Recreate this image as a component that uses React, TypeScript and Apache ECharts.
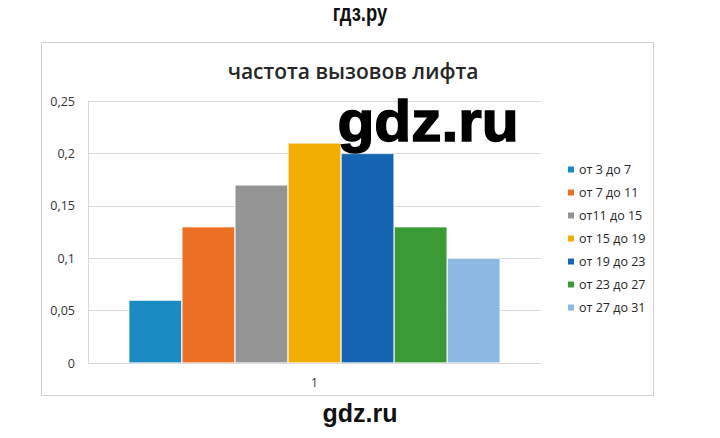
import { useEffect, useRef } from 'react';
import * as echarts from 'echarts';

const categories = ['1'];
const intervals = [
  'от 3 до 7',
  'от 7 до 11',
  'от11 до 15',
  'от 15 до 19',
  'от 19 до 23',
  'от 23 до 27',
  'от 27 до 31',
];
const frequencies = [0.06, 0.13, 0.17, 0.21, 0.2, 0.13, 0.1];
const colors = ['#1a8ac2', '#ec6f23', '#949494', '#f2ad02', '#1565b3', '#3a9a35', '#8cb9e2'];

const labelFont = '"Open Sans", "Liberation Sans", sans-serif';

export default function App() {
  const chartRef = useRef<HTMLDivElement>(null);

  useEffect(() => {
    document.body.style.margin = '0';
    if (!chartRef.current) return;
    const chart = echarts.init(chartRef.current, undefined, { renderer: 'svg' });

    const option: echarts.EChartsOption = {
      animation: false,
      backgroundColor: '#ffffff',
      textStyle: { fontFamily: labelFont },
      title: {
        text: 'частота вызовов лифта',
        left: 348,
        textAlign: 'center',
        top: 55,
        textStyle: {
          fontFamily: labelFont,
          fontSize: 21,
          fontWeight: 600,
          color: '#262626',
        },
      },
      grid: { left: 88, right: 179, top: 101, bottom: 75 },
      legend: {
        orient: 'vertical',
        left: 561,
        top: 158,
        itemWidth: 8,
        itemHeight: 8,
        itemGap: 10,
        icon: 'rect',
        textStyle: { fontFamily: labelFont, fontSize: 12.5, color: '#262626', padding: [0, 0, 0, -1] },
        data: intervals,
      },
      xAxis: {
        type: 'category',
        data: categories,
        axisLine: { lineStyle: { color: '#d9d9d9' } },
        axisTick: { show: false },
        axisLabel: { color: '#333333', fontSize: 12, margin: 13 },
      },
      yAxis: {
        type: 'value',
        min: 0,
        max: 0.25,
        interval: 0.05,
        axisLine: { show: true, lineStyle: { color: '#d9d9d9' } },
        axisTick: { show: false },
        axisLabel: {
          color: '#333333',
          fontSize: 12.5,
          margin: 13,
          formatter: (v: number) => String(Math.round(v * 100) / 100).replace('.', ','),
        },
        splitLine: { lineStyle: { color: '#d9d9d9' } },
      },
      series: intervals.map((name, i) => ({
        name,
        type: 'bar',
        data: [frequencies[i]],
        barGap: '0%',
        barCategoryGap: '18%',
        itemStyle: { color: colors[i], borderColor: '#ffffff', borderWidth: 0.6 },
      })),
      graphic: [
        {
          type: 'rect',
          shape: { x: 41.5, y: 42.5, width: 612, height: 353 },
          style: { fill: 'none', stroke: '#d0d0d0', lineWidth: 1 },
          z: 0,
        },
        {
          type: 'text',
          x: 360,
          y: 13,
          scaleX: 0.8,
          style: {
            text: 'гдз.ру',
            font: 'bold 23px "Liberation Sans", Arial, sans-serif',
            fill: '#111',
            textAlign: 'center',
            textVerticalAlign: 'middle',
          },
          z: 100,
        },
        {
          type: 'text',
          x: 428,
          y: 121,
          scaleX: 1.06,
          style: {
            text: 'gdz.ru',
            font: 'bold 57px "Liberation Sans", Arial, sans-serif',
            fill: '#000',
            stroke: '#000',
            lineWidth: 1.5,
            textAlign: 'center',
            textVerticalAlign: 'middle',
          },
          z: 100,
        },
        {
          type: 'text',
          x: 360,
          y: 413,
          style: {
            text: 'gdz.ru',
            font: 'bold 25px "Liberation Sans", Arial, sans-serif',
            fill: '#111',
            textAlign: 'center',
            textVerticalAlign: 'middle',
          },
          z: 100,
        },
      ],
    };

    chart.setOption(option);
    return () => {
      chart.dispose();
    };
  }, []);

  return <div ref={chartRef} style={{ width: 720, height: 438 }} />;
}
